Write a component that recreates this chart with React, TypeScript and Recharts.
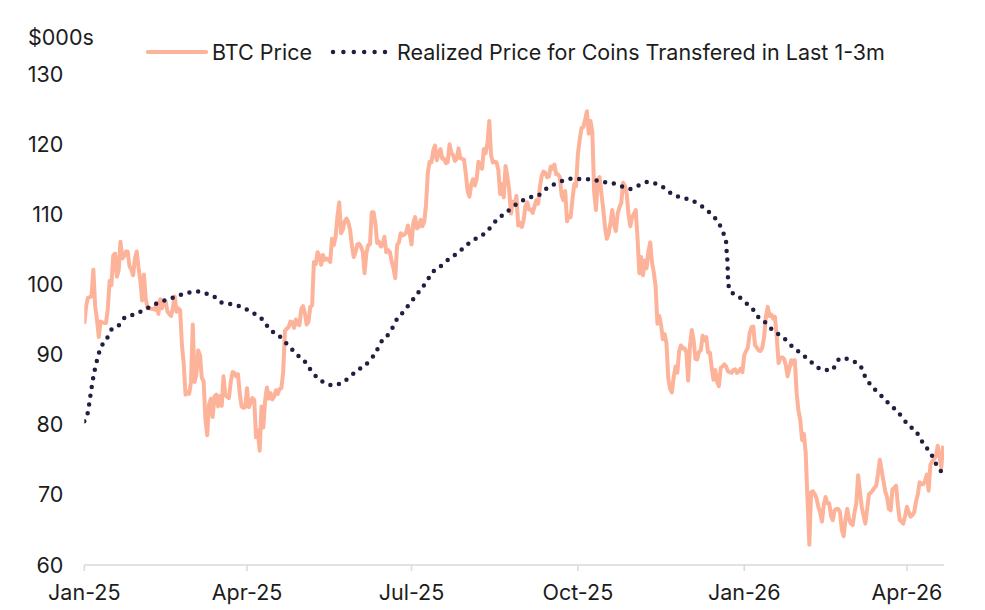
import React from 'react';
import { LineChart, Line, XAxis, YAxis } from 'recharts';

// Day offsets from 1 Jan 2025; BTC daily closes ($000s), index = day
const btcValues: number[] = [
  94.4, 96.9, 98.1, 98.2, 98.3, 102.1, 96.9, 95.0, 92.5, 94.7,
  94.6, 94.5, 94.5, 96.5, 100.5, 99.9, 104.1, 104.4, 101.1, 102.0,
  106.1, 103.7, 104.0, 104.7, 104.7, 102.6, 102.1, 101.3, 103.7, 104.7,
  102.4, 100.6, 97.7, 101.4, 97.9, 96.6, 96.6, 96.5, 96.5, 96.4,
  97.4, 95.8, 97.9, 96.6, 97.5, 97.6, 96.1, 95.8, 95.5, 96.6,
  98.3, 96.1, 96.6, 96.3, 91.4, 88.7, 84.3, 84.7, 84.4, 86.1,
  94.3, 86.1, 87.2, 90.6, 89.9, 86.7, 86.2, 80.7, 78.5, 82.9,
  83.7, 81.1, 84.0, 84.3, 82.6, 84.1, 82.7, 86.9, 84.2, 84.0,
  83.8, 86.1, 87.5, 87.4, 86.9, 87.2, 84.4, 82.6, 82.4, 82.5,
  85.2, 82.5, 83.1, 83.8, 83.5, 78.2, 79.2, 76.3, 82.6, 79.6,
  83.4, 85.3, 83.7, 84.5, 83.6, 84.0, 84.9, 84.4, 85.1, 85.2,
  87.5, 93.4, 93.7, 93.9, 94.7, 94.6, 93.8, 95.0, 94.3, 94.2,
  96.5, 96.9, 95.9, 94.3, 94.7, 96.8, 97.0, 103.2, 102.9, 104.6,
  104.1, 102.8, 104.2, 103.5, 103.7, 103.5, 103.2, 106.5, 105.6, 106.8,
  109.7, 111.7, 107.3, 107.8, 109.0, 109.4, 108.9, 107.8, 105.6, 103.9,
  104.6, 105.7, 105.8, 105.4, 104.7, 101.6, 104.4, 105.6, 105.7, 110.3,
  110.3, 108.7, 105.9, 106.1, 105.4, 105.6, 106.8, 104.6, 104.9, 104.6,
  103.3, 102.3, 100.9, 105.6, 106.0, 107.3, 107.0, 107.1, 107.4, 108.4,
  107.2, 105.7, 108.8, 109.6, 108.0, 108.2, 109.2, 108.3, 108.9, 111.3,
  115.9, 117.5, 117.4, 119.1, 119.8, 117.7, 118.7, 119.3, 117.9, 117.9,
  117.3, 117.4, 120.0, 118.8, 118.4, 117.6, 117.9, 119.4, 118.0, 117.9,
  117.8, 115.8, 113.3, 112.5, 114.2, 115.0, 114.1, 115.0, 117.5, 116.7,
  116.5, 119.3, 118.7, 120.2, 123.3, 118.4, 117.4, 117.5, 117.4, 116.3,
  112.9, 114.3, 112.4, 116.9, 115.4, 113.5, 110.1, 111.8, 111.3, 112.6,
  108.4, 108.8, 108.2, 109.2, 111.2, 111.7, 110.7, 110.7, 110.2, 111.1,
  112.0, 111.5, 113.9, 115.5, 116.1, 115.9, 115.3, 115.4, 116.8, 116.5,
  117.1, 115.7, 115.7, 115.3, 112.7, 112.0, 113.3, 109.0, 109.7, 109.6,
  112.1, 114.3, 114.0, 118.6, 120.6, 122.3, 122.4, 123.5, 124.7, 121.5,
  123.3, 121.7, 113.2, 110.6, 114.9, 115.3, 113.0, 110.8, 108.2, 106.5,
  107.2, 108.7, 110.6, 108.5, 107.6, 110.1, 111.0, 111.6, 114.5, 114.1,
  112.9, 110.0, 108.3, 109.6, 110.1, 110.6, 106.6, 101.6, 103.9, 101.3,
  103.4, 102.3, 104.7, 106.0, 103.1, 101.7, 99.7, 94.4, 95.5, 94.2,
  92.2, 92.9, 91.6, 86.6, 85.1, 84.6, 86.8, 88.3, 87.4, 90.5,
  91.3, 90.9, 90.9, 90.4, 86.3, 91.3, 93.5, 92.1, 89.4, 89.3,
  90.4, 90.6, 92.7, 92.0, 92.5, 90.3, 90.3, 88.2, 86.4, 87.8,
  86.1, 85.5, 88.1, 88.3, 88.6, 88.3, 87.6, 87.5, 87.4, 87.8,
  87.9, 87.4, 87.6, 88.0, 87.5, 89.9, 90.5, 91.0, 93.0, 93.9,
  94.0, 91.3, 91.0, 90.6, 90.5, 91.0, 92.5, 95.4, 96.8, 95.5,
  95.7, 95.1, 95.4, 92.5, 88.8, 89.5, 89.6, 89.4, 88.5, 86.9,
  88.0, 89.2, 88.7, 89.2, 84.5, 82.0, 80.7, 77.8, 78.7, 76.0,
  69.3, 62.9, 70.4, 70.5, 70.1, 69.5, 68.3, 67.5, 66.2, 68.5,
  69.7, 68.8, 68.8, 67.0, 66.4, 67.8, 68.0, 68.0, 67.5, 65.0,
  64.1, 66.5, 68.0, 66.5, 65.9, 65.7, 67.5, 68.8, 72.8, 70.5,
  68.3, 67.0, 65.9, 68.0, 70.1, 70.3, 70.6, 71.0, 71.3, 73.0,
  75.0, 73.5, 72.0, 70.5, 69.7, 68.0, 67.8, 70.8, 71.0, 71.3,
  68.5, 66.4, 66.2, 65.9, 67.0, 68.3, 67.5, 66.9, 67.1, 67.5,
  69.0, 70.0, 71.8, 71.5, 71.5, 72.0, 72.9, 70.6, 74.3, 74.8,
  75.1, 75.5, 77.0, 75.5, 73.9, 77.0,
];

// Realized price for coins transferred in last 1-3m ($000s)
const rpDays: number[] = [
  0, 2, 3, 4, 5, 6.5, 7.7, 9.6, 12.7, 15.1, 19.7, 22.5, 27.5, 32.6, 36.9, 41.9, 47, 52, 57, 62.2,
  67.2, 71.7, 76, 81, 85.8, 90.7, 95.4, 99.6, 102.3, 106.8, 110.6, 114.3, 118, 122, 125.2, 128.5,
  132.8, 137.7, 142.4, 146.4, 150.7, 154.9, 158.4, 161.4, 163.9, 167.3, 170.4, 172.8, 176.5, 179.8,
  182.9, 186.1, 189.4, 192.1, 196.2, 200.1, 204.5, 208.4, 212.4, 217, 221.6, 224.9, 228.4, 232.7,
  236.7, 241.3, 246.1, 251.1, 255.3, 260, 265, 270, 275.5, 281, 285.8, 291.2, 296.3, 301.5, 306.5,
  311.4, 316.6, 321.2, 325.4, 330.4, 335.6, 340.1, 344.3, 348, 351.2, 353.5, 355, 355.3, 355.7,
  355.9, 356.1, 357.1, 361.8, 365.7, 369.7, 372.6, 377, 380.2, 384.4, 388.5, 392.1, 396.4, 400.4,
  404.1, 408.7, 413.9, 415.8, 419.5, 424.4, 429, 431.2, 434, 437.7, 441.3, 445, 448.9, 452.6,
  455.8, 460, 462.6, 465.6, 468.8, 471.1, 474.3,
];
const rpValues: number[] = [
  80.5, 81.8, 83.5, 85.2, 86.8, 88.6, 89.9, 91.2, 92.4, 93.6, 94.3, 95.3, 95.7, 96.3, 96.9, 97.5, 97.9, 98.4, 98.8, 99.0,
  98.7, 98.3, 97.4, 97.2, 96.9, 96.3, 95.6, 94.7, 93.6, 92.9, 91.9, 90.9, 89.9, 89.0, 87.8, 86.8,
  86.0, 85.6, 86.0, 86.7, 87.7, 88.4, 89.3, 90.4, 91.7, 92.6, 93.8, 95.0, 96.1, 97.2,
  98.2, 99.3, 100.4, 101.6, 102.4, 103.3, 104.1, 104.9, 105.8, 106.6, 107.3, 108.2, 109.3, 110.1,
  111.0, 111.8, 112.4, 112.7, 113.6, 114.3, 114.8, 115.1, 115.0, 115.0, 114.6, 114.5, 114.1, 113.6, 114.1,
  114.6, 114.3, 113.7, 112.8, 112.4, 112.0, 111.4, 110.6, 109.7, 108.6, 107.3, 106.0, 104.6, 103.3,
  101.8, 100.4, 99.1, 98.3, 97.4, 96.5, 95.4, 94.5, 93.6, 92.8, 92.0, 91.0, 90.2, 89.3,
  88.5, 87.8, 87.8, 88.9, 89.5, 89.1, 88.5, 87.2, 86.0, 84.9, 84.0, 83.0, 82.1, 81.0,
  79.9, 79.1, 77.9, 76.8, 75.6, 74.4, 73.2,
];

const tickDays: number[] = [0, 90, 181, 273, 365, 455];
const tickLabels: string[] = ['Jan-25', 'Apr-25', 'Jul-25', 'Oct-25', 'Jan-26', 'Apr-26'];
const yTicks: number[] = [60, 70, 80, 90, 100, 110, 120, 130];

const btcData = btcValues.map((v, i) => ({ day: i, btc: v }));
const rpData = rpDays.map((d, i) => ({ day: d, rp: rpValues[i] }));

const FONT = 'Inter, "Noto Sans", sans-serif';
const FS = 21.5;
const TEXT = '#1c1c1c';
const BTC_COLOR = '#FDB39A';
const RP_COLOR = '#221E42';

export default function App() {
  return (
    <div style={{ position: 'relative', width: 969, height: 602, fontFamily: FONT, color: TEXT }}>
      <div style={{ position: 'absolute', left: 20, top: 16, fontSize: FS, lineHeight: '26px', whiteSpace: 'nowrap' }}>$000s</div>
      <svg width={62} height={10} style={{ position: 'absolute', left: 138, top: 39 }}>
        <line x1={2} y1={5} x2={60} y2={5} stroke={BTC_COLOR} strokeWidth={4.2} strokeLinecap="round" />
      </svg>
      <div style={{ position: 'absolute', left: 204, top: 31, fontSize: FS, lineHeight: '26px', whiteSpace: 'nowrap' }}>BTC Price</div>
      <svg width={58} height={10} style={{ position: 'absolute', left: 322, top: 39 }}>
        <line x1={3} y1={5} x2={56} y2={5} stroke={RP_COLOR} strokeWidth={4.5} strokeLinecap="round" strokeDasharray="0 10.4" />
      </svg>
      <div style={{ position: 'absolute', left: 389, top: 31, fontSize: FS, lineHeight: '26px', whiteSpace: 'nowrap' }}>
        Realized Price for Coins Transfered in Last 1-3m
      </div>
      <LineChart width={969} height={602} margin={{ top: 66, right: 33, bottom: 0, left: 16.3 }}>
        <XAxis
          type="number"
          dataKey="day"
          domain={[0, 475.5]}
          ticks={tickDays}
          tickFormatter={(v: number) => tickLabels[tickDays.indexOf(v)] ?? ''}
          allowDataOverflow
          height={45}
          stroke="#d9d9d9"
          strokeWidth={1.5}
          tickSize={6}
          tickMargin={14}
          tick={{ fill: TEXT, fontSize: FS, fontFamily: FONT }}
        />
        <YAxis
          type="number"
          domain={[60, 130]}
          ticks={yTicks}
          width={60}
          axisLine={false}
          tickLine={false}
          tickSize={0}
          tickMargin={21}
          tick={{ fill: TEXT, fontSize: FS, fontFamily: FONT }}
        />
        <Line
          data={btcData}
          dataKey="btc"
          type="linear"
          stroke={BTC_COLOR}
          strokeWidth={4}
          dot={false}
          activeDot={false}
          strokeLinejoin="round"
          isAnimationActive={false}
        />
        <Line
          data={rpData}
          dataKey="rp"
          type="monotone"
          stroke={RP_COLOR}
          strokeWidth={4.5}
          strokeDasharray="0 8.8"
          strokeLinecap="round"
          dot={false}
          activeDot={false}
          isAnimationActive={false}
        />
      </LineChart>
    </div>
  );
}
